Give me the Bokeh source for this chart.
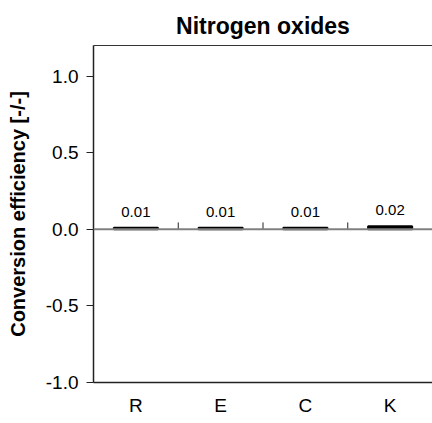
from bokeh.plotting import figure
from bokeh.models import Range1d, FixedTicker, LinearAxis, Span, ColumnDataSource
from bokeh.embed import file_html
from bokeh.resources import INLINE
from bokeh.core.properties import value

# ---- data ----
categories = ["R", "E", "C", "K"]
efficiency = [0.01, 0.01, 0.01, 0.02]
value_labels = ["0.01", "0.01", "0.01", "0.02"]
y_ticks = [-1.0, -0.5, 0.0, 0.5, 1.0]
y_tick_labels = ["-1.0", "-0.5", "0.0", "0.5", "1.0"]
title_text = "Nitrogen oxides"
y_label = "Conversion efficiency [-/-]"

FONT = "Liberation Sans"

n = len(categories)
centers = [i + 0.5 for i in range(n)]
boundaries = list(range(1, n))

p = figure(width=432, height=423, output_backend="svg", toolbar_location=None,
           x_range=Range1d(0, n), y_range=Range1d(-1.0, 1.2),
           min_border_left=93, min_border_right=0, min_border_top=45,
           min_border_bottom=41, title=title_text)
p.outline_line_color = None
p.grid.grid_line_color = None
p.background_fill_color = "white"
p.border_fill_color = "white"

p.title.align = "center"
p.title.vertical_align = "top"
p.title.text_font = FONT
p.title.text_font_size = "23px"
p.title.text_font_style = "bold"
p.title.text_color = "black"
p.title.standoff = 10

# bottom axis (category labels)
xa = p.xaxis[0]
xa.ticker = FixedTicker(ticks=centers)
xa.major_label_overrides = {c: lab for c, lab in zip(centers, categories)}
xa.major_tick_line_color = None
xa.minor_tick_line_color = None
xa.major_tick_out = 0
xa.major_tick_in = 0
xa.major_label_standoff = 12
xa.major_label_text_font = FONT
xa.major_label_text_font_size = "19px"
xa.major_label_text_color = "black"
xa.axis_line_color = "#222222"
xa.axis_line_width = 1.5

# left axis
ya = p.yaxis[0]
ya.ticker = FixedTicker(ticks=y_ticks)
ya.major_label_overrides = {t: lab for t, lab in zip(y_ticks, y_tick_labels)}
ya.minor_tick_line_color = None
ya.major_tick_out = 7
ya.major_tick_in = 0
ya.major_tick_line_color = "#222222"
ya.major_label_standoff = 8
ya.major_label_text_font = FONT
ya.major_label_text_font_size = "19px"
ya.major_label_text_color = "black"
ya.axis_line_color = "#222222"
ya.axis_line_width = 1.5
ya.axis_label = y_label
ya.axis_label_text_font = FONT
ya.axis_label_text_font_size = "20px"
ya.axis_label_text_font_style = "bold"
ya.axis_label_text_color = "black"
ya.axis_label_standoff = 14

# top spine
top = LinearAxis(ticker=FixedTicker(ticks=[]), major_tick_line_color=None,
                 minor_tick_line_color=None, major_label_text_font_size="0px",
                 axis_line_color="#333333", axis_line_width=1)
p.add_layout(top, "above")

# zero line
p.add_layout(Span(location=0, dimension="width", line_color="#808080", line_width=2))

# category boundary tick marks on the zero line
p.segment(x0=boundaries, y0=[0] * len(boundaries), x1=boundaries,
          y1=[0.045] * len(boundaries), line_color="#222222", line_width=1)

# bars
src = ColumnDataSource(dict(x=centers, top=efficiency, lab=value_labels))
p.vbar(x="x", top="top", bottom=0, width=0.52, source=src,
       fill_color="black", line_color="black", line_width=2)

p.text(x="x", y="top", text="lab", source=src, text_align="center",
       text_baseline="bottom", y_offset=-11, text_font=value(FONT),
       text_font_size="15px", text_color="black")

open("out.html", "w").write(file_html(p, INLINE))
